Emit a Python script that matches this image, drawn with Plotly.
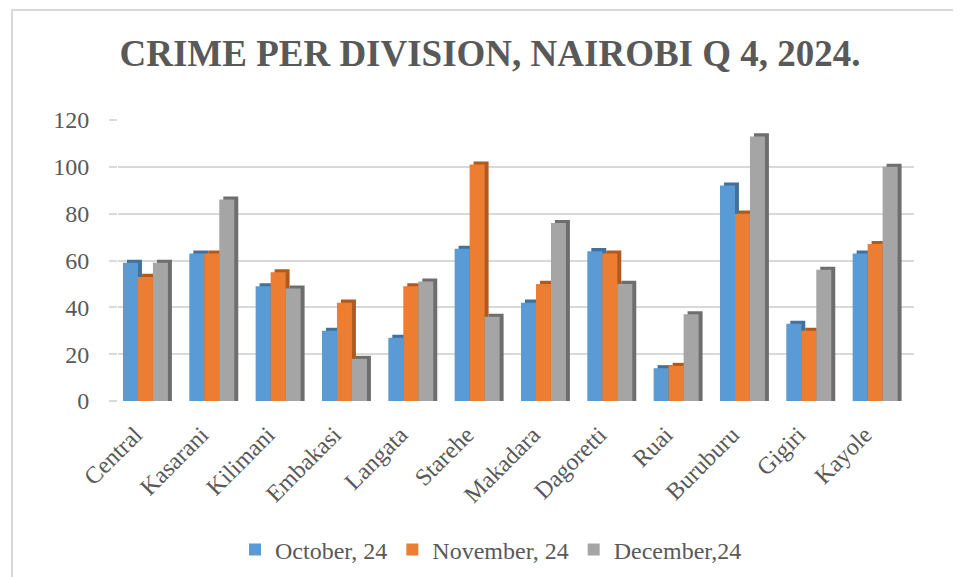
import plotly.graph_objects as go

divisions = ["Central", "Kasarani", "Kilimani", "Embakasi", "Langata", "Starehe",
             "Makadara", "Dagoretti", "Ruai", "Buruburu", "Gigiri", "Kayole"]
october = [59, 63, 49, 30, 27, 65, 42, 64, 14, 92, 33, 63]
november = [53, 63, 55, 42, 49, 101, 50, 63, 15, 80, 30, 67]
december = [59, 86, 48, 18, 51, 36, 76, 50, 37, 113, 56, 100]
series_names = ["October, 24", "November, 24", "December,24"]
y_ticks = [0, 20, 40, 60, 80, 100, 120]

front_colors = ["#5B9BD5", "#ED7D31", "#A5A5A5"]
side_colors = ["#41719C", "#AE5A21", "#6E6E6E"]

W, H = 961, 577
S = 8  # the page body adds an 8px offset; compensate in the layout
L, R, T, B = 118 - S, 961 - (914 - S), 120 - S, 577 - (401 - S)
pw, ph = W - L - R, H - T - B

bar_w = 0.226          # width of one bar in category units
offsets = [-0.425, -0.199, 0.027]
depth_x = 0.06         # 3-D side face shift (category units)
depth_y = 1.3          # 3-D top cap shift (value units)

fig = go.Figure()
all_series = [october, november, december]

# side/top faces (drawn first, behind the front faces)
for vals, off, col in zip(all_series, offsets, side_colors):
    fig.add_trace(go.Bar(
        x=divisions, y=[v + depth_y for v in vals], width=bar_w, offset=off + depth_x,
        marker=dict(color=col, line=dict(width=0)), showlegend=False, hoverinfo="skip"))

# front faces
for vals, off, col, name in zip(all_series, offsets, front_colors, series_names):
    fig.add_trace(go.Bar(
        x=divisions, y=vals, width=bar_w, offset=off, name=name,
        marker=dict(color=col, line=dict(width=0))))

font_fam = "Times New Roman, Liberation Serif, serif"
txt_col = "#595959"

fig.update_layout(
    width=W, height=H,
    margin=dict(l=L, r=R, t=T, b=B, pad=0, autoexpand=False),
    barmode="overlay",
    paper_bgcolor="white", plot_bgcolor="white",
    font=dict(family=font_fam, size=24, color=txt_col),
    title=dict(text="CRIME PER DIVISION, NAIROBI Q 4, 2024.",
               x=(490 - S) / W, xanchor="center", xref="container",
               y=1 - (53 - S) / H, yanchor="middle", yref="container",
               font=dict(family=font_fam, size=37, color=txt_col, weight="bold")),
    xaxis=dict(type="category", categoryorder="array", categoryarray=divisions,
               tickangle=-45, showgrid=False, showline=False, zeroline=False,
               ticks="", ticklabelstandoff=14, ticklabelshift=-16, automargin=False,
               tickfont=dict(family=font_fam, size=24, color=txt_col)),
    yaxis=dict(range=[0, 120], tickvals=y_ticks, showgrid=True,
               gridcolor="#D9D9D9", gridwidth=1.5, zeroline=False, showline=False,
               ticks="outside", ticklen=8, tickcolor="#D9D9D9", tickwidth=1.5,
               ticklabelstandoff=15, automargin=False,
               tickfont=dict(family=font_fam, size=24, color=txt_col)),
    legend=dict(orientation="h", xref="container", yref="container",
                x=(491 - S) / W, xanchor="center",
                y=1 - (550 - S) / H, yanchor="middle",
                font=dict(family=font_fam, size=24, color=txt_col),
                bgcolor="rgba(0,0,0,0)", traceorder="normal"),
    shapes=[dict(type="rect", xref="paper", yref="paper",
                 x0=(12 - S - L) / pw, x1=(975 - L) / pw,
                 y0=-1.0, y1=((401 - S) - (10 - S)) / ph,
                 line=dict(color="#D9D9D9", width=2), fillcolor="rgba(0,0,0,0)",
                 layer="below")],
)

fig.write_html("out.html")
